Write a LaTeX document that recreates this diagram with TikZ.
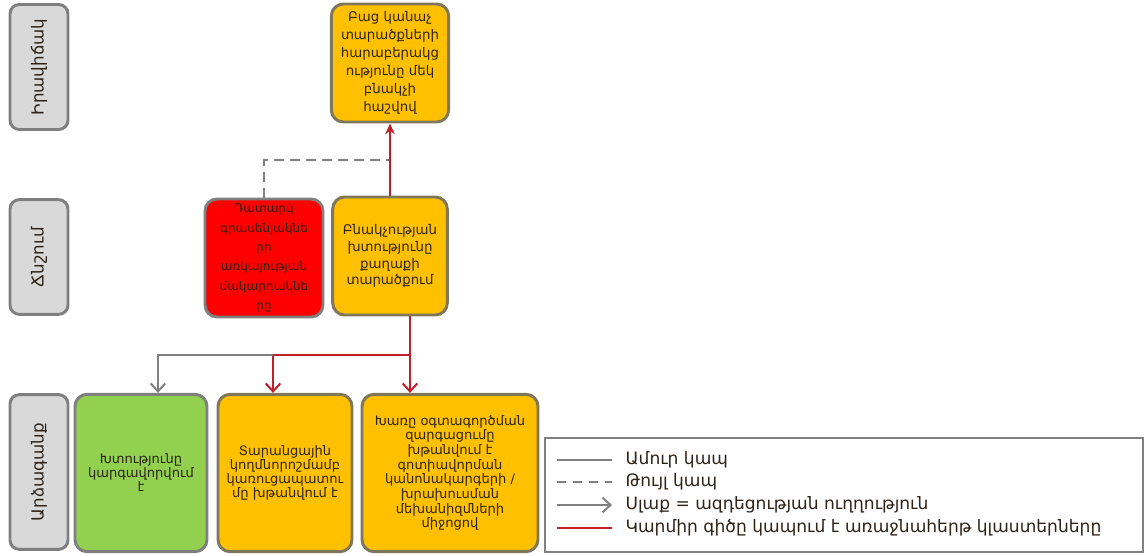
\documentclass[tikz,border=0pt]{standalone}
\usepackage{fontspec}
\newfontfamily\armfont{DejaVu Sans}
\usetikzlibrary{arrows.meta}
\definecolor{boxorange}{RGB}{255,192,0}
\definecolor{boxgreen}{RGB}{146,208,80}
\definecolor{boxred}{RGB}{255,0,0}
\definecolor{boxedge}{RGB}{128,118,90}
\definecolor{labelfill}{RGB}{217,217,217}
\definecolor{labeledge}{RGB}{127,127,127}
\definecolor{linegray}{RGB}{128,128,128}
\definecolor{linered}{RGB}{192,30,40}
\definecolor{textdark}{RGB}{45,35,25}
\begin{document}
\begin{tikzpicture}
      [x=0.75pt, y=-0.75pt,
       box/.style={draw=boxedge, line width=2.2pt, rounded corners=9pt, align=center, inner sep=1pt, text=textdark},
       level/.style={draw=labeledge, fill=labelfill, line width=2.2pt, rounded corners=7pt, rotate=90,
                     minimum height=43.5pt, text=textdark, font=\armfont\fontsize{12.5}{14}\selectfont},
       grayline/.style={line width=1.5pt, color=linegray},
       redline/.style={line width=1.5pt, color=linered},
       barb/.style={-{Straight Barb[length=6pt,width=11pt]}}]
      \useasboundingbox (0,0) rectangle (1145,556);

      % levels
      \node[level, minimum width=93.75pt] (sit) at (39,67) {Իրավիճակ};
      \node[level, minimum width=86pt] (pres) at (39,257) {Ճնշում};
      \node[level, minimum width=116pt] (resp) at (39,472) {Արձագանք};

      % situation
      \node[box, fill=boxorange, minimum width=88pt, minimum height=88.5pt,
            font=\armfont\fontsize{10}{13.5}\selectfont] (greenratio) at (390,63)
            {Բաց կանաչ\\տարածքների\\հարաբերակց\\ությունը մեկ\\բնակչի\\հաշվով};

      % pressure
      \node[box, fill=boxred, draw=labeledge, minimum width=88.5pt, minimum height=88.5pt,
            font=\armfont\fontsize{9}{14.5}\selectfont] (vacancy) at (264,258)
            {Դատարկ\\գրասենյակնե\\րի\\առկայության\\մակարդակնե\\րը};
      \node[box, fill=boxorange, minimum width=86pt, minimum height=88.5pt,
            font=\armfont\fontsize{10}{12.5}\selectfont] (density) at (390,256)
            {Բնակչության\\խտությունը\\քաղաքի\\տարածքում};

      % response
      \node[box, fill=boxgreen, draw=labeledge, minimum width=99pt, minimum height=118pt,
            font=\armfont\fontsize{9.8}{10.5}\selectfont] (regulate) at (141,473)
            {Խտությունը\\կարգավորվում\\է};
      \node[box, fill=boxorange, minimum width=100.5pt, minimum height=118pt,
            font=\armfont\fontsize{9.8}{10.5}\selectfont] (transit) at (285,473)
            {Տարանցային\\կողմնորոշմամբ\\կառուցապատու\\մը խթանվում է};
      \node[box, fill=boxorange, minimum width=132pt, minimum height=118pt,
            font=\armfont\fontsize{9.8}{11}\selectfont] (mixeduse) at (450,473)
            {Խառը օգտագործման\\զարգացումը\\խթանվում է\\գոտիավորման\\կանոնակարգերի /\\խրախուսման\\մեխանիզմների\\միջոցով};

      \coordinate (dashjoin) at (390,160);
      \coordinate (splitright) at (410,355);
      \coordinate (splitleft) at (273,355);
      \coordinate (splitgray) at (158,355);

      % links
      \draw[grayline, dash pattern=on 7pt off 5pt] (vacancy.north) |- (dashjoin);
      \draw[redline, -{Stealth[length=8pt,width=7pt]}] (density.north) -- (greenratio.south);
      \draw[redline] (density.south -| splitright) -- (splitright) -- (splitleft);
      \draw[redline, barb] (splitright) -- (splitright |- mixeduse.north);
      \draw[redline, barb] (splitleft) -- (splitleft |- transit.north);
      \draw[grayline, barb] (splitleft) -- (splitgray) -- (splitgray |- regulate.north);

      % legend
      \node[draw=linegray, line width=1.5pt, minimum width=448.5pt, minimum height=85.5pt] (legend) at (844,495) {};
      \node[anchor=west, inner xsep=10pt, text=textdark, font=\armfont\fontsize{12.8}{14}\selectfont] (solidtxt) at (612,460) {Ամուր կապ};
      \node[anchor=west, inner xsep=10pt, text=textdark, font=\armfont\fontsize{12.8}{14}\selectfont] (dashtxt) at (612,482) {Թույլ կապ};
      \node[anchor=west, inner xsep=10pt, text=textdark, font=\armfont\fontsize{12.8}{14}\selectfont] (arrowtxt) at (612,505) {Սլաք = ազդեցության ուղղություն};
      \node[anchor=west, inner xsep=10pt, text=textdark, font=\armfont\fontsize{12.8}{14}\selectfont] (redtxt) at (612,528) {Կարմիր գիծը կապում է առաջնահերթ կլաստերները};
      \coordinate (solidstart) at (557,460);
      \coordinate (dashstart) at (557,482);
      \coordinate (arrowstart) at (557,505);
      \coordinate (redstart) at (557,528);
      \draw[grayline] (solidstart) -- (solidtxt.west);
      \draw[grayline, dash pattern=on 7pt off 5pt] (dashstart) -- (dashtxt.west);
      \draw[grayline, barb] (arrowstart) -- (arrowtxt.west);
      \draw[redline] (redstart) -- (redtxt.west);
\end{tikzpicture}
\end{document}
